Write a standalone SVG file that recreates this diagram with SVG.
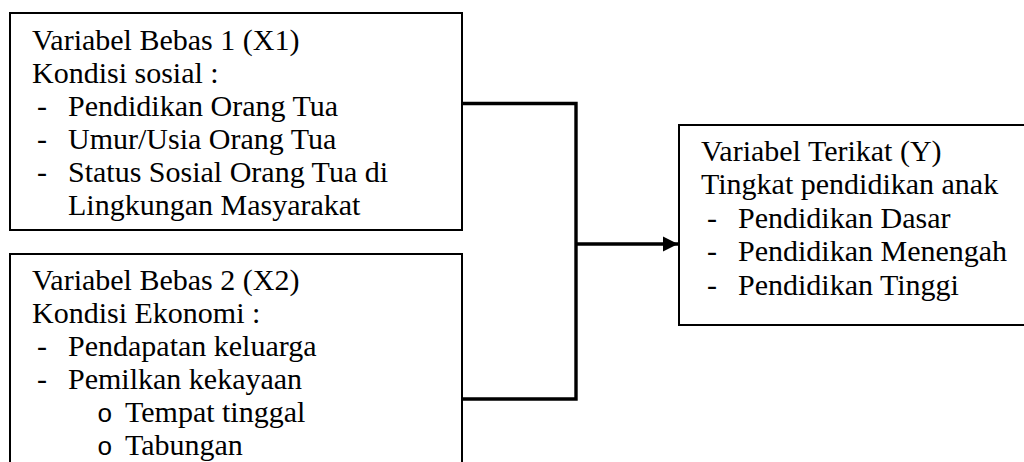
<svg xmlns="http://www.w3.org/2000/svg" width="1024" height="462" viewBox="0 0 1024 462">
<defs>
  <marker id="arrow" markerUnits="userSpaceOnUse" markerWidth="16" markerHeight="16" refX="15" refY="8" orient="auto">
    <path d="M0,0.5 L15,8 L0,15.5 Z" fill="#000"/>
  </marker>
</defs>
<rect width="1024" height="462" fill="#fff"/>
<g id="connectors" fill="none" stroke="#000" stroke-width="3.4">
  <path d="M462,103.5 H576 V399 H462"/>
  <path d="M576,244 H678" marker-end="url(#arrow)"/>
</g>
<g id="node-x1">
  <rect x="10" y="13" width="452" height="217" fill="#fff" stroke="#000" stroke-width="2"/>
</g>
<g id="node-x2">
  <rect x="10" y="254" width="452" height="230" fill="#fff" stroke="#000" stroke-width="2"/>
</g>
<g id="node-y">
  <rect x="679" y="125" width="360" height="200" fill="#fff" stroke="#000" stroke-width="2"/>
</g>
<text x="32" y="50" style="font-family:'Liberation Serif','Times New Roman',serif" font-size="30">Variabel Bebas 1 (X1)</text>
<text x="32" y="83" style="font-family:'Liberation Serif','Times New Roman',serif" font-size="30">Kondisi sosial :</text>
<text x="37" y="116" style="font-family:'Liberation Serif','Times New Roman',serif" font-size="30">-</text>
<text x="68" y="116" style="font-family:'Liberation Serif','Times New Roman',serif" font-size="30">Pendidikan Orang Tua</text>
<text x="37" y="149" style="font-family:'Liberation Serif','Times New Roman',serif" font-size="30">-</text>
<text x="68" y="149" style="font-family:'Liberation Serif','Times New Roman',serif" font-size="30">Umur/Usia Orang Tua</text>
<text x="37" y="182" style="font-family:'Liberation Serif','Times New Roman',serif" font-size="30">-</text>
<text x="68" y="182" style="font-family:'Liberation Serif','Times New Roman',serif" font-size="30">Status Sosial Orang Tua di</text>
<text x="68" y="215" style="font-family:'Liberation Serif','Times New Roman',serif" font-size="30">Lingkungan Masyarakat</text>
<text x="32" y="290" style="font-family:'Liberation Serif','Times New Roman',serif" font-size="30">Variabel Bebas 2 (X2)</text>
<text x="32" y="323" style="font-family:'Liberation Serif','Times New Roman',serif" font-size="30">Kondisi Ekonomi :</text>
<text x="37" y="356" style="font-family:'Liberation Serif','Times New Roman',serif" font-size="30">-</text>
<text x="68" y="356" style="font-family:'Liberation Serif','Times New Roman',serif" font-size="30">Pendapatan keluarga</text>
<text x="37" y="389" style="font-family:'Liberation Serif','Times New Roman',serif" font-size="30">-</text>
<text x="68" y="389" style="font-family:'Liberation Serif','Times New Roman',serif" font-size="30">Pemilkan kekayaan</text>
<text x="97" y="422" style="font-family:'Liberation Mono','Courier New',monospace" font-size="26">o</text>
<text x="125" y="422" style="font-family:'Liberation Serif','Times New Roman',serif" font-size="30">Tempat tinggal</text>
<text x="97" y="455" style="font-family:'Liberation Mono','Courier New',monospace" font-size="26">o</text>
<text x="125" y="455" style="font-family:'Liberation Serif','Times New Roman',serif" font-size="30">Tabungan</text>
<text x="701" y="161" style="font-family:'Liberation Serif','Times New Roman',serif" font-size="30">Variabel Terikat (Y)</text>
<text x="701" y="194" style="font-family:'Liberation Serif','Times New Roman',serif" font-size="30">Tingkat pendidikan anak</text>
<text x="707" y="228" style="font-family:'Liberation Serif','Times New Roman',serif" font-size="30">-</text>
<text x="738" y="228" style="font-family:'Liberation Serif','Times New Roman',serif" font-size="30">Pendidikan Dasar</text>
<text x="707" y="261" style="font-family:'Liberation Serif','Times New Roman',serif" font-size="30">-</text>
<text x="738" y="261" style="font-family:'Liberation Serif','Times New Roman',serif" font-size="30">Pendidikan Menengah</text>
<text x="707" y="295" style="font-family:'Liberation Serif','Times New Roman',serif" font-size="30">-</text>
<text x="738" y="295" style="font-family:'Liberation Serif','Times New Roman',serif" font-size="30">Pendidikan Tinggi</text>
</svg>
